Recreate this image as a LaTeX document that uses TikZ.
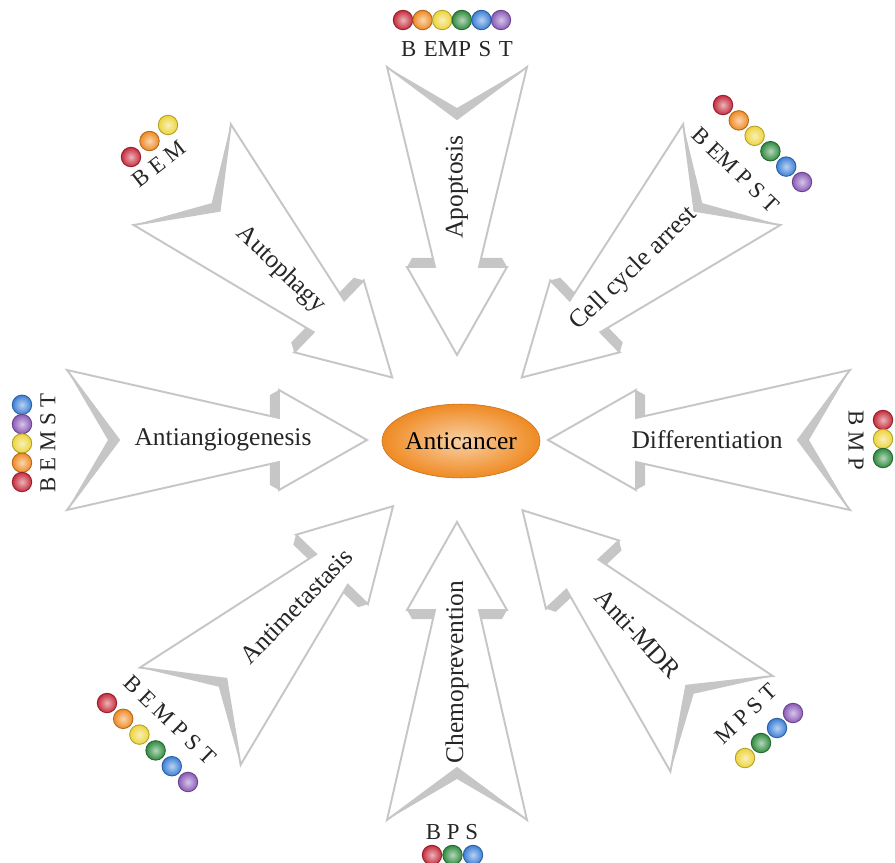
\documentclass[tikz,border=0pt]{standalone}
\usepackage{fontspec}
\setmainfont{Liberation Serif}
\usetikzlibrary{shapes.geometric}

\definecolor{bRed}{HTML}{C62B3C}
\definecolor{bOrange}{HTML}{EF8A22}
\definecolor{bYellow}{HTML}{EDD43A}
\definecolor{bGreen}{HTML}{2F8B3F}
\definecolor{bBlue}{HTML}{3B7FD6}
\definecolor{bPurple}{HTML}{8A5BB8}
\definecolor{rimgray}{HTML}{C6C6C6}

\begin{document}
\begin{tikzpicture}[x=0.02cm, y=0.02cm,
    arrowbody/.style={fill=white, draw=rimgray, line width=1.1pt, line join=miter},
    arrowrim/.style={fill=rimgray, draw=none},
    effect/.style={font=\fontsize{14.5}{16}\selectfont, text=black!85},
    tags/.style={font=\fontsize{13}{15}\selectfont, text=black!85},
    bead/.style={circle, minimum size=0.39cm, inner sep=0pt, line width=0.5pt,
        draw=#1!75!black, inner color=#1!35!white, outer color=#1}]
    \useasboundingbox (-457,-422) rectangle (438,440);

    % the eight arrows, tip towards the centre
    \foreach \ang/\tip/\len in {90/85/288, 136/90/292, 44/90/292, 180/90/300,
                                0/91/302, 226/92/292, 270/82/298, -47/96/292} {
        \begin{scope}[shift={(\ang:\tip)}, rotate=\ang]
            \draw[arrowbody] (0,0) -- (88,50) -- (88,22) -- (\len,70) -- ({\len-52},0)
                -- (\len,-70) -- (88,-22) -- (88,-50) -- cycle;
            \fill[arrowrim] (\len,70) -- ({\len-52},0) -- (\len,-70) -- ({\len-41},0) -- cycle;
            \fill[arrowrim] (88,50) -- (88,22) -- (97,24) -- (97,45) -- cycle;
            \fill[arrowrim] (88,-50) -- (88,-22) -- (97,-24) -- (97,-45) -- cycle;
        \end{scope}
    }

    \node[ellipse, minimum width=3.06cm, minimum height=1.48cm, inner sep=0pt,
        draw=bOrange!80!black, line width=0.3pt, inner color=bOrange!40!white,
        outer color=bOrange, font=\fontsize{14.5}{16}\selectfont] (anticancer) at (4,-1) {Anticancer};

    \node[effect, rotate=90]  (apoptosis) at (90:253) {Apoptosis};
    \node[effect, rotate=-44] (autophagy) at (136:245) {Autophagy};
    \node[effect, rotate=44]  (cellcycle) at (44:246) {Cell cycle arrest};
    \node[effect]             (antiangio) at (180:234) {Antiangiogenesis};
    \node[effect]             (differ)    at (0:250) {Differentiation};
    \node[effect, rotate=46]  (antimeta)  at (226:231) {Antimetastasis};
    \node[effect, rotate=90]  (chemo)     at (270:232) {Chemoprevention};
    \node[effect, rotate=-47] (antimdr)   at (-47:265) {Anti-MDR};

    % coloured beads with their letters
    \foreach \c [count=\k] in {bRed,bOrange,bYellow,bGreen,bBlue,bPurple}
        \node[bead=\c] (apo-\k) at ({-73.6+19.6*\k}, 420) {};
    \node[tags] (apo-tag) at (0,391) {B\,\,EMP\,\,S\,\,T};

    \foreach \c [count=\k] in {bRed,bOrange,bYellow}
        \node[bead=\c] (aut-\k) at ({-344.5+18.5*\k}, {267+16*\k}) {};
    \node[tags, rotate=38] (aut-tag) at (-298,276) {B E M};

    \foreach \c [count=\k] in {bRed,bOrange,bYellow,bGreen,bBlue,bPurple}
        \node[bead=\c] (cel-\k) at ({250.2+15.8*\k}, {350.4-15.4*\k}) {};
    \node[tags, rotate=-44] (cel-tag) at (279,270) {B EM P S T};

    \foreach \c [count=\k] in {bBlue,bPurple,bYellow,bOrange,bRed}
        \node[bead=\c] (ang-\k) at (-435, {54.5-19.3*\k}) {};
    \node[tags, rotate=90] (ang-tag) at (-409,-3) {B E M S T};

    \foreach \c [count=\k] in {bRed,bYellow,bGreen}
        \node[bead=\c] (dif-\k) at (426, {39-19*\k}) {};
    \node[tags, rotate=-90] (dif-tag) at (399,0) {B M P};

    \foreach \c [count=\k] in {bRed,bOrange,bYellow,bGreen,bBlue,bPurple}
        \node[bead=\c] (met-\k) at ({-366.2+16.2*\k}, {-247.2-15.8*\k}) {};
    \node[tags, rotate=-44] (met-tag) at (-287,-280) {B E M P S T};

    \foreach \c [count=\k] in {bYellow,bGreen,bBlue,bPurple}
        \node[bead=\c] (mdr-\k) at ({272+16*\k}, {-333+15*\k}) {};
    \node[tags, rotate=43] (mdr-tag) at (289,-274) {M P S T};

    \foreach \c [count=\k] in {bRed,bGreen,bBlue}
        \node[bead=\c] (che-\k) at ({-45.5+20.5*\k}, -415) {};
    \node[tags] (che-tag) at (-5,-392) {B P S};
\end{tikzpicture}
\end{document}
